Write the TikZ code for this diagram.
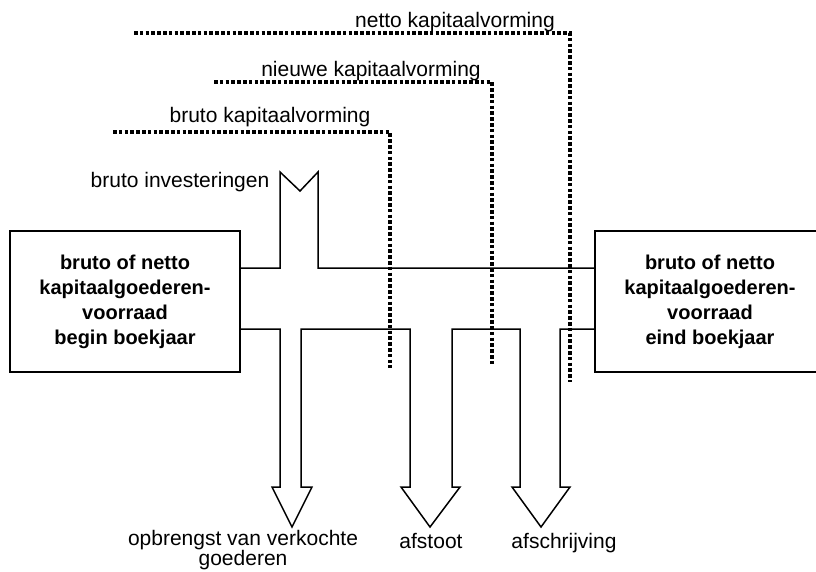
\documentclass[tikz,border=0pt]{standalone}
\usepackage{fontspec}
\setmainfont{Liberation Sans}
\begin{document}
\begin{tikzpicture}[x=1pt,y=-1pt,
  flow/.style={draw=black, line width=1.5pt, line join=miter},
  dots/.style={draw=black, line width=3.4pt, dash pattern=on 3.5pt off 2.3pt},
  lbl/.style={inner sep=0pt, font=\fontsize{21}{21}\selectfont, anchor=base},
  stock/.style={draw=black, line width=1.5pt, minimum width=230pt, minimum height=141pt,
    inner sep=0pt, align=center, font=\fontsize{20}{25}\selectfont\bfseries}]
\useasboundingbox (0,0) rectangle (816,571);

% stock boxes
\node[stock] (begin) at (125,301.5) {bruto of netto\\kapitaalgoederen-\\voorraad\\begin boekjaar};
\node[stock] (eind) at (710,301.5) {bruto of netto\\kapitaalgoederen-\\voorraad\\eind boekjaar};

% flow outline
\coordinate (u0) at (begin.east |- 0,268);
\coordinate (u1) at (eind.west |- 0,268);
\coordinate (l0) at (begin.east |- 0,329);
\coordinate (l1) at (eind.west |- 0,329);
\draw[flow] (u0) -- (280,268) -- (280,172) -- (300,191) -- (318,172) -- (318,268) -- (u1);
\draw[flow] (l0) -- (280,329) -- (280,487) -- (272,487) -- (292,527) -- (312,487) -- (301,487) -- (301,329)
  -- (410,329) -- (410,487) -- (401,487) -- (430,527) -- (460,487) -- (452,487) -- (452,329)
  -- (520,329) -- (520,487) -- (512,487) -- (541,527) -- (570,487) -- (560,487) -- (560,329) -- (l1);

% labels
\node[lbl] (netto) at (455,27) {netto kapitaalvorming};
\node[lbl] (nieuw) at (371,76) {nieuwe kapitaalvorming};
\node[lbl] (brutok) at (270,122) {bruto kapitaalvorming};
\node[lbl] (brutoi) at (180,187) {bruto investeringen};
\node[lbl, align=center, anchor=south, font=\fontsize{21}{19}\selectfont] (opbr) at (243,570.5) {opbrengst van verkochte\\goederen};
\node[lbl] (afstoot) at (431,548) {afstoot};
\node[lbl] (afschr) at (564,548) {afschrijving};

% dotted brackets
\draw[dots] (113,132) -- (390,132) -- (390,368);
\draw[dots] (214,82) -- (492,82) -- (492,365);
\draw[dots] (134,33) -- (570,33) -- (570,382);
\end{tikzpicture}
\end{document}
